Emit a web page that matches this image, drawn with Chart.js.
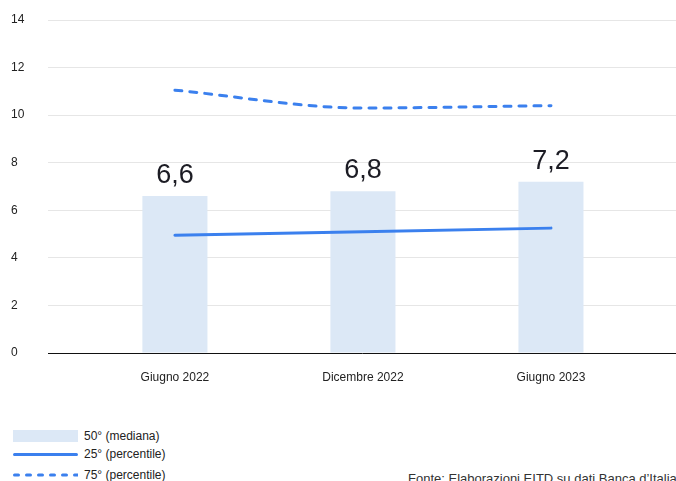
<!DOCTYPE html>
<html>
<head>
<meta charset="utf-8">
<script src="https://cdn.jsdelivr.net/npm/chart.js@4"></script>
<style>
  html, body { margin: 0; padding: 0; background: #fff; }
  body { width: 676px; height: 481px; position: relative; overflow: hidden;
         font-family: 'Liberation Sans', Arial, sans-serif; color: #222; }
  #wrap { position: absolute; left: 0; top: 0; width: 676px; height: 400px; }
  .leg { position: absolute; left: 13px; font-size: 12px; display: flex; align-items: center; }
  .leg .sw { width: 65px; margin-right: 6px; }
  #fonte { position: absolute; left: 408px; top: 471px; font-size: 13px; color: #333; white-space: nowrap; }
</style>
</head>
<body>
<div id="wrap"><canvas id="chart"></canvas></div>

<div class="leg" style="top:429px;"><div class="sw" style="height:12px;background:#dce8f6;"></div>50° (mediana)</div>
<div class="leg" style="top:447px;"><div class="sw" style="height:0;border-top:3px solid #3b80ee;border-radius:2px;"></div>25° (percentile)</div>
<div class="leg" style="top:468px;"><svg class="sw" width="65" height="6"><line x1="1.5" y1="3" x2="65" y2="3" stroke="#3b80ee" stroke-width="3" stroke-linecap="round" stroke-dasharray="4,8"/></svg>75° (percentile)</div>
<div id="fonte">Fonte: Elaborazioni EITD su dati Banca d’Italia</div>

<script>
// ---- Dati ----
const CATEGORIES = ['Giugno 2022', 'Dicembre 2022', 'Giugno 2023'];
const MEDIANA = [6.6, 6.8, 7.2];
const P25 = [4.95, 5.1, 5.25];
const P75 = [11.05, 10.3, 10.4];
const Y_TICKS = [0, 2, 4, 6, 8, 10, 12, 14];

const BLUE = '#3b80ee';
const fmtIt = v => v.toFixed(1).replace('.', ',');
const toXY = arr => arr.map((v, i) => ({ x: i, y: v }));

// etichette sopra le barre (dataset barre = indice 2)
const barLabels = {
    id: 'barLabels',
    afterDatasetsDraw(chart) {
        const meta = chart.getDatasetMeta(2);
        const ctx = chart.ctx;
        ctx.save();
        ctx.font = '27px "Liberation Sans", Arial, sans-serif';
        ctx.fillStyle = '#1c1c24';
        ctx.textAlign = 'center';
        ctx.textBaseline = 'alphabetic';
        meta.data.forEach((bar, i) => {
            ctx.fillText(fmtIt(MEDIANA[i]), bar.x, bar.y - 13);
        });
        ctx.restore();
    }
};

Chart.defaults.font.family = '"Liberation Sans", Arial, sans-serif';
Chart.defaults.color = '#222';

new Chart(document.getElementById('chart'), {
    type: 'bar',
    data: {
        datasets: [
            {
                type: 'line', label: '25° (percentile)', data: toXY(P25),
                borderColor: BLUE, borderWidth: 3, pointRadius: 0,
                cubicInterpolationMode: 'monotone', borderCapStyle: 'round', order: 0
            },
            {
                type: 'line', label: '75° (percentile)', data: toXY(P75),
                borderColor: BLUE, borderWidth: 3, pointRadius: 0, borderDash: [7, 8],
                cubicInterpolationMode: 'monotone', borderCapStyle: 'round', order: 0
            },
            {
                type: 'bar', label: '50° (mediana)', data: toXY(MEDIANA),
                backgroundColor: '#dce8f6', categoryPercentage: 1, barPercentage: 0.346, order: 1
            }
        ]
    },
    options: {
        responsive: true,
        maintainAspectRatio: false,
        animation: false,
        layout: { padding: { top: 20, left: 11, right: 0, bottom: 0 } },
        plugins: { legend: { display: false }, tooltip: { enabled: false } },
        scales: {
            x: {
                type: 'linear', min: -0.675, max: 2.665, offset: false,
                afterBuildTicks: s => { s.ticks = [0, 1, 2].map(v => ({ value: v })); },
                afterFit: s => { s.height = 47; },
                ticks: { callback: v => CATEGORIES[v], padding: 17, font: { size: 12 }, color: '#222', maxRotation: 0 },
                grid: { display: false, drawTicks: false },
                border: { display: true, color: '#111', width: 1 }
            },
            y: {
                min: 0, max: 14,
                afterBuildTicks: s => { s.ticks = Y_TICKS.map(v => ({ value: v })); },
                afterFit: s => { s.width = 37; },
                ticks: { crossAlign: 'far', font: { size: 12 }, color: '#222' },
                grid: { color: '#e6e6e6', drawTicks: false },
                border: { display: false }
            }
        }
    },
    plugins: [barLabels]
});
</script>
</body>
</html>
